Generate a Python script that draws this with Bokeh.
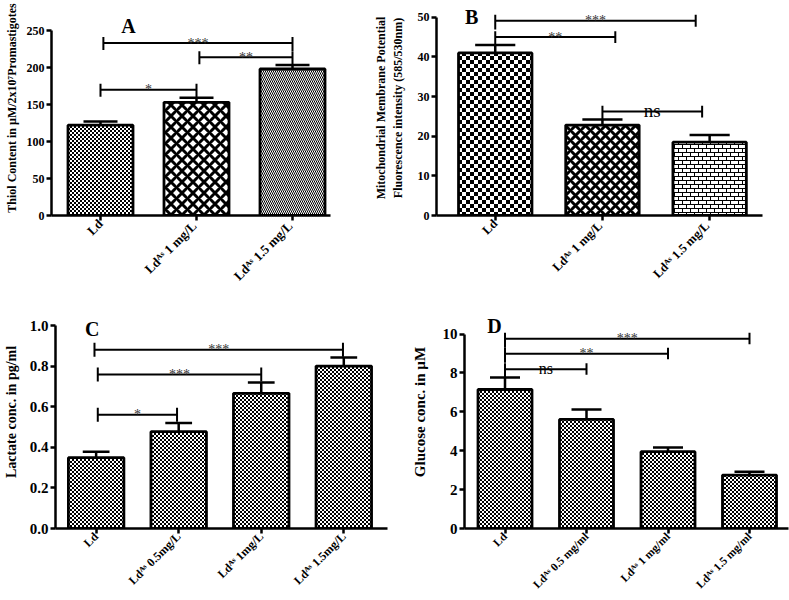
import math, zlib, struct, base64
from bokeh.plotting import figure
from bokeh.models import Range1d, FixedTicker, Label, ImageURLTexture, ColumnDataSource, PrintfTickFormatter
from bokeh.layouts import column, row
from bokeh.embed import file_html
from bokeh.resources import INLINE

SERIF = "Liberation Serif"

# ---------------- data ----------------
a_labels = ["Ld", "Ldᴬˢ  1 mg/L", "Ldᴬˢ  1.5 mg/L"]
a_values = [122, 153, 198]
a_errors = [127, 159, 203.5]
a_br_x0 = [1.03, 2.03, 1.0]
a_br_x1 = [3.0, 3.0, 2.0]
a_br_y = [233, 214, 170]
a_br_text = ["***", "**", "*"]
a_yticks = [0, 50, 100, 150, 200, 250]

b_labels = ["Ld", "Ldᴬˢ  1 mg/L", "Ldᴬˢ  1.5 mg/L"]
b_values = [41.0, 22.8, 18.5]
b_errors = [43.0, 24.2, 20.3]
b_br_x0 = [1.0, 1.0, 2.0]
b_br_x1 = [2.87, 2.12, 2.93]
b_br_y = [49.1, 45.0, 26.2]
b_br_text = ["***", "**", "ns"]
b_yticks = [0, 10, 20, 30, 40, 50]

c_labels = ["Ld", "Ldᴬˢ 0.5mg/L", "Ldᴬˢ 1mg/L", "Ldᴬˢ 1.5mg/L"]
c_values = [0.349, 0.477, 0.666, 0.800]
c_errors = [0.378, 0.520, 0.719, 0.842]
c_br_x0 = [0.98, 1.02, 1.02]
c_br_x1 = [3.99, 3.0, 1.98]
c_br_y = [0.880, 0.759, 0.560]
c_br_text = ["***", "***", "*"]
c_yticks = [0.0, 0.2, 0.4, 0.6, 0.8, 1.0]

d_labels = ["Ld", "Ldᴬˢ 0.5 mg/ml", "Ldᴬˢ 1 mg/ml", "Ldᴬˢ 1.5 mg/ml"]
d_values = [7.15, 5.61, 3.95, 2.75]
d_errors = [7.77, 6.12, 4.17, 2.92]
d_br_x0 = [1.0, 1.0, 1.0]
d_br_x1 = [4.0, 3.0, 2.0]
d_br_y = [9.76, 8.99, 8.19]
d_br_text = ["***", "**", "ns"]
d_yticks = [0, 2, 4, 6, 8, 10]


# ---------------- textures (tiny PNG tiles) ----------------
def tile_url(rows):
    h = len(rows)
    w = len(rows[0])
    raw = b""
    for r in rows:
        raw += b"\x00" + b"".join(b"\x00\x00\x00\xff" if c == "1" else b"\x00\x00\x00\x00" for c in r)

    def chunk(t, d):
        return struct.pack(">I", len(d)) + t + d + struct.pack(">I", zlib.crc32(t + d) & 0xffffffff)

    png = (b"\x89PNG\r\n\x1a\n" + chunk(b"IHDR", struct.pack(">IIBBBBB", w, h, 8, 6, 0, 0, 0))
           + chunk(b"IDAT", zlib.compress(raw)) + chunk(b"IEND", b""))
    return "data:image/png;base64," + base64.b64encode(png).decode()


FINE = ["1100", "1100", "0011", "0011"]
COARSE = ["11110000"] * 4 + ["00001111"] * 4
BRICK = ["11111111", "10000000", "10000000", "10000000",
         "11111111", "00001000", "00001000", "00001000"]
EXTRA = {"fine": ImageURLTexture(url=tile_url(FINE)),
         "coarse": ImageURLTexture(url=tile_url(COARSE)),
         "brick": ImageURLTexture(url=tile_url(BRICK))}


def build(g, labels, values, errors, bx0, bx1, by, btext, yticks, fmt,
          patterns, hscales, hweights, cfg):
    L, R, T, B = g["frame"]
    c1, ux, uy = g["c1"], g["ux"], g["uy"]
    fx, fy, fw, fh = g["box"]
    x0 = 1 - (c1 - L) / ux
    x1 = 1 + (R - c1) / ux
    ytop = (B - T) / uy

    def px2x(px):
        return 1 + (px - c1) / ux

    def px2y(py):
        return (B - py) / uy

    p = figure(width=fw, height=fh, x_range=Range1d(x0, x1), y_range=Range1d(0, ytop),
               output_backend="svg", toolbar_location=None, title=None,
               min_border_left=L - fx, min_border_right=fx + fw - R,
               min_border_top=T - fy, min_border_bottom=fy + fh - B)
    p.outline_line_color = None
    p.xgrid.visible = False
    p.ygrid.visible = False
    p.background_fill_color = "white"
    p.border_fill_color = "white"

    ya = p.yaxis[0]
    ya.ticker = FixedTicker(ticks=yticks)
    ya.bounds = (yticks[0], yticks[-1])
    ya.formatter = PrintfTickFormatter(format=fmt)
    ya.major_tick_in = 0
    ya.major_tick_out = 5
    ya.minor_tick_in = 0
    ya.minor_tick_out = 0
    ya.axis_line_width = 2.5
    ya.major_tick_line_width = 2.5
    ya.major_label_text_font = SERIF
    ya.major_label_text_font_style = "bold"
    ya.major_label_text_font_size = cfg["ytick_fs"]
    ya.major_label_text_color = "black"
    ya.major_label_standoff = 2
    ya.axis_label = cfg["ytitle"]
    ya.axis_label_text_font = SERIF
    ya.axis_label_text_font_style = "bold"
    ya.axis_label_text_font_size = cfg["ytitle_fs"]
    ya.axis_label_text_color = "black"
    ya.axis_label_standoff = cfg["ytitle_off"]

    n = len(values)
    xs = list(range(1, n + 1))
    xa = p.xaxis[0]
    xa.ticker = FixedTicker(ticks=xs)
    xa.major_label_overrides = dict(zip(xs, labels))
    xa.major_label_orientation = math.pi / 4
    xa.major_label_text_font = SERIF
    xa.major_label_text_font_style = "bold"
    xa.major_label_text_font_size = cfg["xl_fs"]
    xa.major_label_text_color = "black"
    xa.major_label_standoff = cfg["xl_off"]
    xa.major_tick_in = 0
    xa.major_tick_out = 5
    xa.minor_tick_in = 0
    xa.minor_tick_out = 0
    xa.axis_line_width = 2.5
    xa.major_tick_line_width = 2.5

    bw = cfg["bar_w"] / ux
    cw = cfg["cap_w"] / ux
    # error bars
    p.segment(x0=xs, y0=values, x1=xs, y1=errors, line_color="black", line_width=2.5)
    p.segment(x0=[x - cw / 2 for x in xs], y0=errors, x1=[x + cw / 2 for x in xs], y1=errors,
              line_color="black", line_width=2.5)
    src = ColumnDataSource(dict(x=xs, top=values, pat=patterns, hs=hscales, hw=hweights))
    p.vbar(x="x", top="top", bottom=0, width=bw, source=src, fill_color="white",
           line_color="black", line_width=2.8, hatch_pattern="pat", hatch_scale="hs",
           hatch_weight="hw", hatch_color="black", hatch_extra=EXTRA)

    # significance brackets
    up, dl, dr = cfg["tick_up"] / uy, cfg["tick_dl"] / uy, cfg["tick_dr"] / uy
    p.segment(x0=bx0, y0=by, x1=bx1, y1=by, line_color="black", line_width=2)
    p.segment(x0=bx0, y0=[y + up for y in by], x1=bx0, y1=[y - dl for y in by],
              line_color="black", line_width=2)
    p.segment(x0=bx1, y0=[y + up for y in by], x1=bx1, y1=[y - dr for y in by],
              line_color="black", line_width=2)
    for a, b_, y, t in zip(bx0, bx1, by, btext):
        ns = t == "ns"
        p.add_layout(Label(x=(a + b_) / 2, y=y, text=t, text_align="center",
                           text_baseline="alphabetic", y_offset=cfg["ns_off"] if ns else 0,
                           text_font=SERIF,
                           text_font_size=cfg["ns_fs"] if ns else cfg["ast_fs"],
                           text_color="black" if ns else "#333333"))

    # panel letter
    lx, ly, lt = cfg["letter"]
    p.add_layout(Label(x=px2x(lx), y=px2y(ly), text=lt, text_align="center",
                       text_baseline="alphabetic", text_font=SERIF, text_font_style="bold",
                       text_font_size="20px", text_color="black"))
    return p


gA = dict(box=(0, 0, 370, 295), frame=(51, 330, 0, 215), c1=100, ux=96, uy=0.74)
gB = dict(box=(370, 0, 419, 295), frame=(429, 762, 0, 219), c1=489, ux=109.5, uy=4.04)
gC = dict(box=(0, 295, 400, 305), frame=(52, 387, 295, 528), c1=93, ux=83.3, uy=203)
gD = dict(box=(400, 295, 389, 305), frame=(464, 788, 295, 528), c1=504.5, ux=81.5, uy=19.44)

cA = dict(ytick_fs="12px", bar_w=65, cap_w=34, tick_up=6, tick_dl=7, tick_dr=8,
          ast_fs="14px", ns_fs="19px", ns_off=1, xl_fs="13px", xl_off=1,
          ytitle="Thiol Content in µM/2x10⁷Promastigotes", ytitle_fs="12px", ytitle_off=5,
          letter=(128, 25, "A"))
cB = dict(ytick_fs="12px", bar_w=75, cap_w=41, tick_up=6, tick_dl=9, tick_dr=6,
          ast_fs="14px", ns_fs="19px", ns_off=1, xl_fs="12.5px", xl_off=1,
          ytitle="Mitochondrial Membrane Potential\nFluorescence intensity (585/530nm)",
          ytitle_fs="12px", ytitle_off=10,
          letter=(465, 17, "B"))
cC = dict(ytick_fs="15px", bar_w=56, cap_w=27, tick_up=7, tick_dl=7, tick_dr=7,
          ast_fs="14px", ns_fs="16px", ns_off=1, xl_fs="12px", xl_off=1,
          ytitle="Lactate conc. in pg/ml", ytitle_fs="14px", ytitle_off=8,
          letter=(89, 328, "C"))
cD = dict(ytick_fs="15px", bar_w=54, cap_w=30, tick_up=6, tick_dl=9, tick_dr=5.5,
          ast_fs="14px", ns_fs="16px", ns_off=1, xl_fs="11.5px", xl_off=1,
          ytitle="Glucose conc. in µM", ytitle_fs="15px", ytitle_off=12,
          letter=(494, 325, "D"))

pA = build(gA, a_labels, a_values, a_errors, a_br_x0, a_br_x1, a_br_y, a_br_text, a_yticks, "%d",
           ["fine", "x", "\\"], [4, 11, 4], [1, 3, 1], cA)
pB = build(gB, b_labels, b_values, b_errors, b_br_x0, b_br_x1, b_br_y, b_br_text, b_yticks, "%d",
           ["coarse", "x", "brick"], [8, 10, 8], [1, 3, 1], cB)
pC = build(gC, c_labels, c_values, c_errors, c_br_x0, c_br_x1, c_br_y, c_br_text, c_yticks, "%.1f",
           ["fine"] * 4, [4] * 4, [1] * 4, cC)
pD = build(gD, d_labels, d_values, d_errors, d_br_x0, d_br_x1, d_br_y, d_br_text, d_yticks, "%d",
           ["fine"] * 4, [4] * 4, [1] * 4, cD)

layout = column(row(pA, pB), row(pC, pD))
open("out.html", "w").write(file_html(layout, INLINE))
